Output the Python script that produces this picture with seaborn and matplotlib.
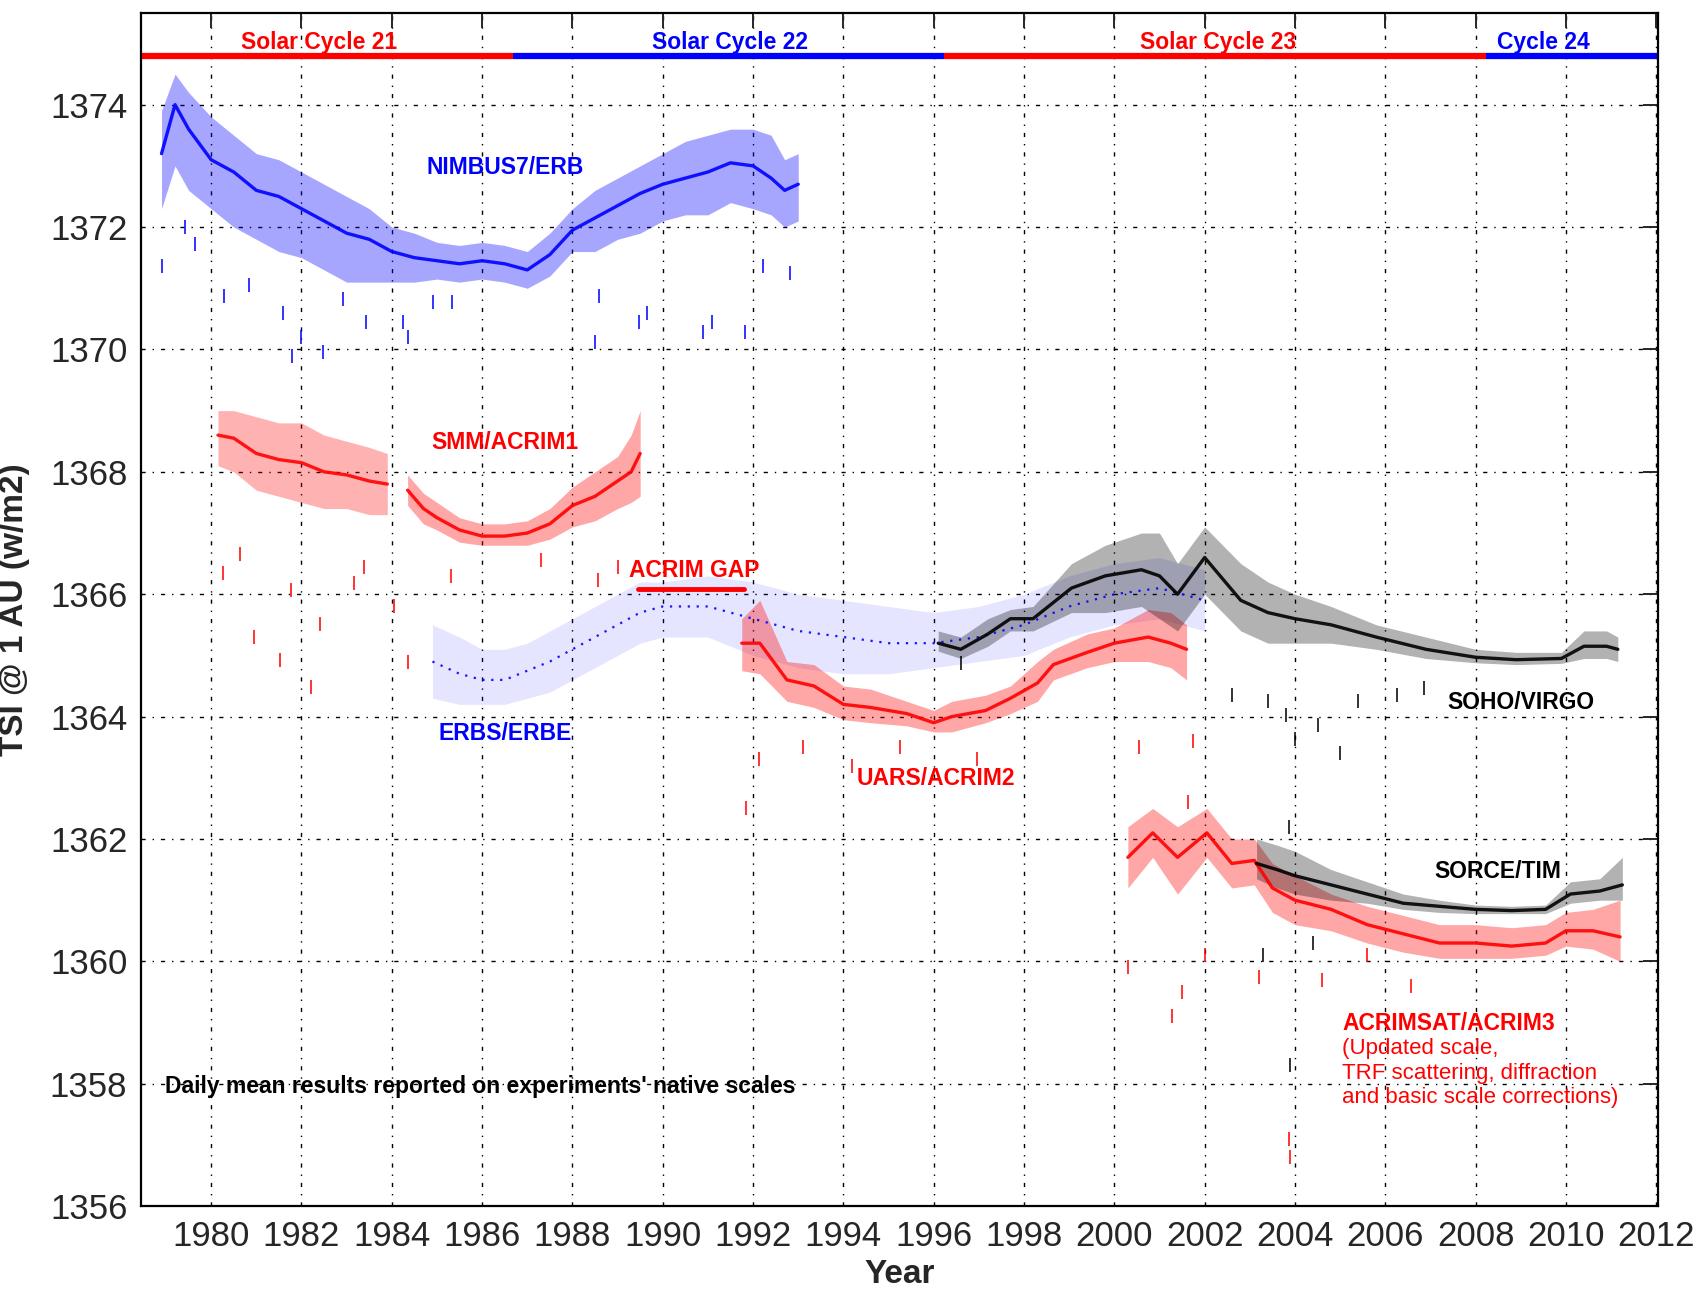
import numpy as np
import pandas as pd
import matplotlib
matplotlib.use("Agg")
import matplotlib.pyplot as plt
import seaborn as sns
from matplotlib import font_manager

# ---- data (samples: centre, low / high edge of the daily scatter)
nimbus_year = [1978.9, 1979.2, 1979.5, 1980.0, 1980.5, 1981.0, 1981.5, 1982.0, 1982.5, 1983.0, 1983.5,
               1984.0, 1984.5, 1985.0, 1985.5, 1986.0, 1986.5, 1987.0, 1987.5, 1988.0, 1988.5, 1989.0,
               1989.5, 1990.0, 1990.5, 1991.0, 1991.5, 1992.0, 1992.4, 1992.7, 1993.0]
nimbus_mid = [1373.2, 1374.0, 1373.6, 1373.1, 1372.9, 1372.6, 1372.5, 1372.3, 1372.1, 1371.9, 1371.8,
              1371.6, 1371.5, 1371.45, 1371.4, 1371.45, 1371.4, 1371.3, 1371.55, 1371.95, 1372.15, 1372.35,
              1372.55, 1372.7, 1372.8, 1372.9, 1373.05, 1373.0, 1372.8, 1372.6, 1372.7]
nimbus_lo = [1372.3, 1373.0, 1372.6, 1372.3, 1372.0, 1371.8, 1371.6, 1371.5, 1371.3, 1371.1, 1371.1,
             1371.1, 1371.1, 1371.15, 1371.1, 1371.15, 1371.1, 1371.0, 1371.2, 1371.6, 1371.6, 1371.8,
             1371.9, 1372.1, 1372.2, 1372.2, 1372.4, 1372.3, 1372.2, 1372.0, 1372.1]
nimbus_hi = [1373.9, 1374.5, 1374.2, 1373.8, 1373.5, 1373.2, 1373.1, 1372.9, 1372.7, 1372.5, 1372.3,
             1372.0, 1371.9, 1371.75, 1371.7, 1371.75, 1371.7, 1371.6, 1371.9, 1372.3, 1372.6, 1372.8,
             1373.0, 1373.2, 1373.4, 1373.5, 1373.6, 1373.6, 1373.5, 1373.1, 1373.2]
nimbus_dip_year = [1978.9, 1979.42, 1979.64, 1980.28, 1980.83, 1981.58, 1981.8, 1982.0, 1982.47, 1982.91,
                   1983.43, 1984.25, 1984.36, 1984.92, 1985.33, 1988.51, 1988.59, 1989.47, 1989.65,
                   1990.9, 1991.08, 1991.82, 1992.22, 1992.81]
nimbus_dip_val = [1371.36, 1372.0, 1371.73, 1370.87, 1371.06, 1370.6, 1369.9, 1370.2, 1369.96, 1370.82,
                  1370.45, 1370.45, 1370.2, 1370.77, 1370.77, 1370.12, 1370.87, 1370.45, 1370.6,
                  1370.28, 1370.45, 1370.28, 1371.36, 1371.25]

acrim1_early_year = [1980.15, 1980.5, 1981.0, 1981.5, 1982.0, 1982.5, 1983.0, 1983.5, 1983.9]
acrim1_early_mid = [1368.6, 1368.55, 1368.3, 1368.2, 1368.15, 1368.0, 1367.95, 1367.85, 1367.8]
acrim1_early_lo = [1368.1, 1368.0, 1367.7, 1367.6, 1367.5, 1367.4, 1367.4, 1367.3, 1367.3]
acrim1_early_hi = [1369.0, 1369.0, 1368.9, 1368.8, 1368.8, 1368.6, 1368.5, 1368.4, 1368.3]
acrim1_late_year = [1984.35, 1984.7, 1985.0, 1985.5, 1986.0, 1986.5, 1987.0, 1987.5, 1988.0, 1988.5,
                    1989.0, 1989.3, 1989.5]
acrim1_late_mid = [1367.7, 1367.4, 1367.25, 1367.05, 1366.95, 1366.95, 1367.0, 1367.15, 1367.45, 1367.6,
                   1367.85, 1368.0, 1368.3]
acrim1_late_lo = [1367.45, 1367.15, 1367.05, 1366.85, 1366.8, 1366.8, 1366.8, 1366.9, 1367.1, 1367.2,
                  1367.4, 1367.5, 1367.6]
acrim1_late_hi = [1367.95, 1367.65, 1367.5, 1367.25, 1367.15, 1367.15, 1367.2, 1367.4, 1367.75, 1368.0,
                  1368.25, 1368.6, 1369.0]
acrim1_dip_year = [1980.26, 1980.64, 1980.94, 1981.53, 1981.76, 1982.2, 1982.42, 1983.16, 1983.39,
                   1984.05, 1984.35, 1985.31, 1987.31, 1988.57, 1989.01]
acrim1_dip_val = [1366.35, 1366.65, 1365.3, 1364.92, 1366.07, 1364.48, 1365.52, 1366.18, 1366.45,
                  1365.8, 1364.9, 1366.29, 1366.56, 1366.24, 1366.45]

erbs_year = [1984.9, 1985.5, 1986.0, 1986.5, 1987.0, 1987.5, 1988.0, 1988.5, 1989.0, 1989.5, 1990.0,
             1991.0, 1992.0, 1993.0, 1994.0, 1995.0, 1996.0, 1997.0, 1998.0, 1999.0, 2000.0, 2001.0,
             2002.0]
erbs_mid = [1364.9, 1364.7, 1364.6, 1364.6, 1364.75, 1364.9, 1365.1, 1365.3, 1365.5, 1365.7, 1365.8,
            1365.8, 1365.6, 1365.4, 1365.3, 1365.2, 1365.2, 1365.3, 1365.5, 1365.8, 1366.0, 1366.1,
            1365.9]
erbs_lo = [1364.3, 1364.2, 1364.2, 1364.2, 1364.3, 1364.4, 1364.6, 1364.8, 1365.0, 1365.2, 1365.3,
           1365.3, 1365.0, 1364.8, 1364.7, 1364.7, 1364.8, 1364.9, 1365.0, 1365.3, 1365.5, 1365.6,
           1365.4]
erbs_hi = [1365.5, 1365.3, 1365.1, 1365.1, 1365.2, 1365.4, 1365.6, 1365.8, 1366.0, 1366.2, 1366.2,
           1366.3, 1366.2, 1366.0, 1365.9, 1365.8, 1365.7, 1365.8, 1366.0, 1366.3, 1366.5, 1366.6,
           1366.4]

acrim2_year = [1991.75, 1992.15, 1992.75, 1993.35, 1994.0, 1994.6, 1995.4, 1996.0, 1996.4, 1997.15,
               1997.7, 1998.3, 1998.65, 1999.4, 2000.0, 2000.75, 2001.25, 2001.6]
acrim2_mid = [1365.2, 1365.2, 1364.6, 1364.5, 1364.2, 1364.15, 1364.05, 1363.9, 1364.0, 1364.1,
              1364.3, 1364.55, 1364.85, 1365.05, 1365.2, 1365.3, 1365.2, 1365.1]
acrim2_lo = [1364.75, 1364.7, 1364.25, 1364.15, 1363.95, 1363.9, 1363.85, 1363.75, 1363.75, 1363.9,
             1364.05, 1364.25, 1364.6, 1364.8, 1364.9, 1364.9, 1364.8, 1364.6]
acrim2_hi = [1365.6, 1365.9, 1364.9, 1364.85, 1364.5, 1364.45, 1364.25, 1364.1, 1364.25, 1364.35,
             1364.5, 1364.9, 1365.1, 1365.35, 1365.45, 1365.75, 1365.7, 1365.5]
acrim2_dip_year = [1991.85, 1992.14, 1993.1, 1994.18, 1995.26, 1996.95, 2000.55, 2001.63, 2001.75]
acrim2_dip_val = [1362.5, 1363.3, 1363.5, 1363.2, 1363.5, 1363.3, 1363.5, 1362.6, 1363.6]

virgo_year = [1996.1, 1996.6, 1997.2, 1997.7, 1998.2, 1999.05, 1999.8, 2000.6, 2001.0, 2001.4, 2002.0,
              2002.8, 2003.4, 2004.0, 2004.8, 2005.8, 2006.9, 2008.0, 2008.9, 2009.9, 2010.4, 2010.9,
              2011.15]
virgo_mid = [1365.2, 1365.1, 1365.35, 1365.6, 1365.6, 1366.1, 1366.3, 1366.4, 1366.3, 1366.0, 1366.6,
             1365.9, 1365.7, 1365.6, 1365.5, 1365.3, 1365.1, 1364.97, 1364.93, 1364.95, 1365.15, 1365.15,
             1365.1]
virgo_lo = [1365.07, 1364.95, 1365.15, 1365.4, 1365.4, 1365.7, 1365.7, 1365.8, 1365.6, 1365.4, 1366.0,
            1365.4, 1365.2, 1365.2, 1365.2, 1365.1, 1364.95, 1364.88, 1364.85, 1364.87, 1364.95, 1364.95,
            1364.9]
virgo_hi = [1365.4, 1365.3, 1365.6, 1365.75, 1365.8, 1366.5, 1366.8, 1367.0, 1367.0, 1366.5, 1367.1,
            1366.5, 1366.2, 1366.0, 1365.8, 1365.5, 1365.3, 1365.1, 1365.05, 1365.05, 1365.4, 1365.4,
            1365.3]
virgo_dip_year = [1996.6, 2002.6, 2003.4, 2003.8, 2003.87, 2004.0, 2004.5, 2005.0, 2005.4, 2006.25, 2006.85]
virgo_dip_val = [1364.88, 1364.36, 1364.25, 1364.03, 1362.2, 1363.64, 1363.86, 1363.4, 1364.25, 1364.36,
                 1364.47]

acrim3_year = [2000.3, 2000.85, 2001.4, 2002.05, 2002.6, 2003.1, 2003.5, 2004.0, 2004.8, 2005.6, 2006.4,
               2007.2, 2008.0, 2008.8, 2009.55, 2010.0, 2010.6, 2011.2]
acrim3_mid = [1361.7, 1362.1, 1361.7, 1362.1, 1361.6, 1361.65, 1361.2, 1361.0, 1360.85, 1360.6, 1360.45,
              1360.3, 1360.3, 1360.25, 1360.3, 1360.5, 1360.5, 1360.4]
acrim3_lo = [1361.2, 1361.7, 1361.1, 1361.7, 1361.2, 1361.25, 1360.8, 1360.6, 1360.5, 1360.3, 1360.15,
             1360.05, 1360.05, 1360.05, 1360.1, 1360.25, 1360.2, 1360.0]
acrim3_hi = [1362.2, 1362.5, 1362.2, 1362.5, 1362.0, 1362.0, 1361.6, 1361.4, 1361.1, 1360.9, 1360.75,
             1360.6, 1360.6, 1360.55, 1360.6, 1360.8, 1360.85, 1361.0]
acrim3_dip_year = [2000.3, 2001.27, 2001.5, 2002.0, 2003.2, 2003.87, 2003.9, 2004.6, 2005.6, 2006.56]
acrim3_dip_val = [1359.9, 1359.1, 1359.5, 1360.1, 1359.75, 1357.1, 1356.8, 1359.7, 1360.1, 1359.6]

tim_year = [2003.15, 2003.6, 2004.0, 2004.8, 2005.6, 2006.4, 2007.2, 2008.0, 2008.8, 2009.55, 2010.1,
            2010.75, 2011.25]
tim_mid = [1361.6, 1361.5, 1361.4, 1361.25, 1361.1, 1360.95, 1360.9, 1360.85, 1360.83, 1360.85, 1361.1,
           1361.15, 1361.25]
tim_lo = [1361.35, 1361.2, 1361.1, 1361.0, 1360.95, 1360.85, 1360.8, 1360.78, 1360.78, 1360.78, 1360.95,
          1361.0, 1361.0]
tim_hi = [1362.0, 1361.9, 1361.8, 1361.5, 1361.3, 1361.1, 1361.0, 1360.92, 1360.9, 1360.92, 1361.3,
          1361.35, 1361.7]
tim_dip_year = [2003.3, 2003.9, 2004.4]
tim_dip_val = [1360.1, 1358.3, 1360.3]

# solar cycle bar along the top
cycle_edges = [1978.45, 1986.68, 1996.23, 2008.24, 2012.05]
cycle_names = ["Solar Cycle 21", "Solar Cycle 22", "Solar Cycle 23", "Cycle 24"]
cycle_label_x = [1982.4, 1991.5, 2002.3, 2009.5]
cycle_colors = ["#ff0000", "#0000ff", "#ff0000", "#0000ff"]
cycle_level = 1374.8

acrim_gap = [1989.45, 1991.8]
acrim_gap_level = 1366.09

BLUE, RED, BLACK = "#0000ff", "#ff0000", "#000000"

sns.set_style("white")
names = {f.name for f in font_manager.fontManager.ttflist}
narrow = "Liberation Sans Narrow" if "Liberation Sans Narrow" in names else "Liberation Sans"
plt.rcParams["font.family"] = ["Liberation Sans", "DejaVu Sans"]

fig = plt.figure(figsize=(17.01, 12.9), dpi=100)
ax = fig.add_axes([0.083, 0.065, 0.892, 0.925])


def draw_instrument(year, mid, lo, hi, color, dip_year=None, dip_val=None, alpha=0.35,
                    lw=2.4, ls="-"):
    df = pd.DataFrame({"year": year, "mid": mid, "lo": lo, "hi": hi})
    ax.fill_between(df["year"], df["lo"], df["hi"], color=color, alpha=alpha, lw=0)
    sns.lineplot(data=df, x="year", y="mid", color=color, lw=lw, alpha=0.9, linestyle=ls,
                 estimator=None, sort=False, ax=ax)
    if dip_year is not None:
        sns.scatterplot(x=dip_year, y=dip_val, marker="|", s=90, color=color,
                        linewidth=1.4, alpha=0.8, ax=ax)


draw_instrument(erbs_year, erbs_mid, erbs_lo, erbs_hi, BLUE, alpha=0.1, lw=1.6, ls=(0, (1, 3)))
draw_instrument(nimbus_year, nimbus_mid, nimbus_lo, nimbus_hi, BLUE, nimbus_dip_year, nimbus_dip_val)
draw_instrument(acrim1_early_year, acrim1_early_mid, acrim1_early_lo, acrim1_early_hi, RED,
                acrim1_dip_year, acrim1_dip_val, alpha=0.3)
draw_instrument(acrim1_late_year, acrim1_late_mid, acrim1_late_lo, acrim1_late_hi, RED)
draw_instrument(acrim2_year, acrim2_mid, acrim2_lo, acrim2_hi, RED, acrim2_dip_year, acrim2_dip_val)
draw_instrument(virgo_year, virgo_mid, virgo_lo, virgo_hi, BLACK, virgo_dip_year, virgo_dip_val, alpha=0.3)
draw_instrument(acrim3_year, acrim3_mid, acrim3_lo, acrim3_hi, RED, acrim3_dip_year, acrim3_dip_val)
draw_instrument(tim_year, tim_mid, tim_lo, tim_hi, BLACK, tim_dip_year, tim_dip_val, alpha=0.3)

# cycle bar + labels
for i, name in enumerate(cycle_names):
    ax.plot(cycle_edges[i:i + 2], [cycle_level, cycle_level], color=cycle_colors[i], lw=4.5,
            solid_capstyle="butt", clip_on=False)
    ax.text(cycle_label_x[i], cycle_level + 0.03, name, color=cycle_colors[i], fontsize=16.5,
            fontweight="bold", ha="center", va="bottom")

ax.plot(acrim_gap, [acrim_gap_level, acrim_gap_level], color=RED, lw=3.5)

lab = dict(fontsize=16.5, fontweight="bold", ha="center", va="center")
ax.text(1986.5, 1372.97, "NIMBUS7/ERB", color=BLUE, **lab)
ax.text(1986.5, 1368.48, "SMM/ACRIM1", color=RED, **lab)
ax.text(1990.7, 1366.38, "ACRIM GAP", color=RED, **lab)
ax.text(1986.5, 1363.73, "ERBS/ERBE", color=BLUE, **lab)
ax.text(1996.05, 1362.99, "UARS/ACRIM2", color=RED, **lab)
ax.text(2009.0, 1364.23, "SOHO/VIRGO", color=BLACK, **lab)
ax.text(2008.5, 1361.47, "SORCE/TIM", color=BLACK, **lab)
ax.text(2005.05, 1358.99, "ACRIMSAT/ACRIM3", color=RED, fontsize=16.5, fontweight="bold",
        ha="left", va="center")
ax.text(2005.05, 1358.74, "(Updated scale,\nTRF scattering, diffraction\nand basic scale corrections)",
        color=RED, fontsize=16, ha="left", va="top", linespacing=1.2)
ax.text(1978.97, 1357.96, "Daily mean results reported on experiments' native scales",
        color=BLACK, fontsize=16.5, fontweight="bold", ha="left", va="center")

ax.set_xlim(1978.45, 2012.05)
ax.set_ylim(1356, 1375.5)
ax.set_xticks(np.arange(1980, 2013, 2))
ax.set_yticks(np.arange(1356, 1375, 2))
ax.grid(True, color="black", linestyle=(0, (3, 5, 1, 5)), lw=1.0)
ax.tick_params(direction="in", length=11, width=1.4, top=True, right=True, labelsize=25, pad=10)
for lbl in ax.get_xticklabels() + ax.get_yticklabels():
    lbl.set_family(narrow)
for s in ax.spines.values():
    s.set_color("black")
    s.set_linewidth(1.6)
ax.set_xlabel("Year", fontsize=24, fontweight="bold", labelpad=4)
ax.set_ylabel("TSI @ 1 AU (w/m2)", fontsize=24, fontweight="bold", labelpad=14)

fig.savefig("out.png", dpi=100)
